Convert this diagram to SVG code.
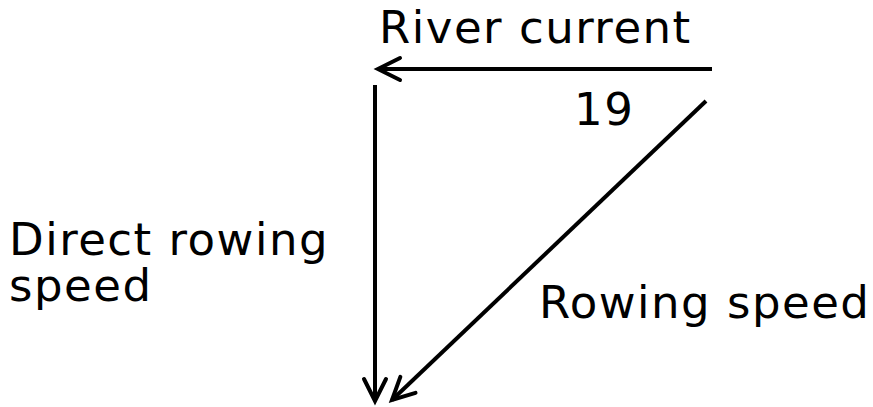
<svg xmlns="http://www.w3.org/2000/svg" width="873" height="407" viewBox="0 0 873 407">
<style>
text{font-family:"DejaVu Sans","Liberation Sans",sans-serif;font-size:45px;letter-spacing:1.5px;fill:#000}
.c{stroke:#000;stroke-width:4;fill:none}
</style>
<defs>
<marker id="ah" markerUnits="userSpaceOnUse" markerWidth="40" markerHeight="40" viewBox="-30 -20 40 40" refX="0" refY="0" orient="auto" overflow="visible">
<path d="M-22,-11 L0,0 L-22,11" fill="none" stroke="#000" stroke-width="4" stroke-linecap="round" stroke-linejoin="miter"/>
</marker>
</defs>
<rect width="873" height="407" fill="#fff"/>
<g id="connectors">
<line class="c" x1="712" y1="69" x2="378" y2="69" marker-end="url(#ah)"/>
<line class="c" x1="375" y1="85" x2="375" y2="401" marker-end="url(#ah)"/>
<line class="c" x1="706" y1="101" x2="392" y2="400" marker-end="url(#ah)"/>
</g>
<g id="river"><text x="379" y="43">River current</text></g>
<g id="angle"><text x="574" y="125">19</text></g>
<g id="direct"><text x="9" y="255">Direct rowing</text><text x="9" y="301">speed</text></g>
<g id="rowing"><text x="539" y="318">Rowing speed</text></g>
</svg>
